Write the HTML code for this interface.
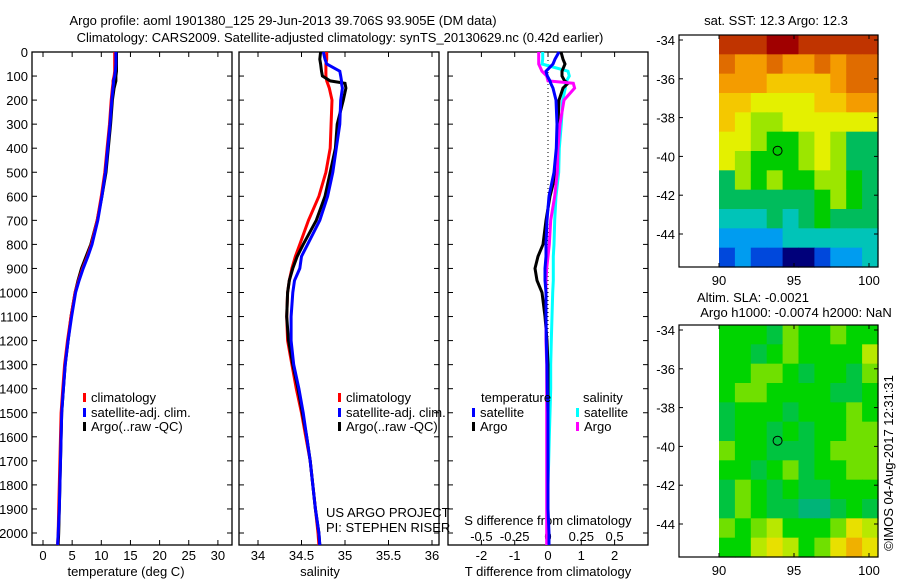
<!DOCTYPE html>
<html><head><meta charset="utf-8"><style>
html,body{margin:0;padding:0;background:#fff;}
svg{display:block;font-family:"Liberation Sans",sans-serif;}
text{fill:#000;font-size:13px;}
</style></head><body>
<svg id="fig" width="900" height="580" viewBox="0 0 900 580">
<text x="283" y="25" text-anchor="middle">Argo profile: aoml 1901380_125 29-Jun-2013 39.706S 93.905E (DM data)</text>
<text x="340" y="42" text-anchor="middle">Climatology: CARS2009. Satellite-adjusted climatology: synTS_20130629.nc (0.42d earlier)</text>
<g id="g"></g>
</svg>
<script>
// ---------- data ----------
const depths = [0,30,50,80,100,120,130,150,200,300,400,500,600,700,800,850,900,950,1000,1100,1200,1300,1400,1500,1600,1700,1800,1900,2000,2050];
const tempClim = [12.3,12.3,12.3,12.3,12.2,12.0,12.0,11.9,11.7,11.4,11.0,10.6,10.0,9.3,8.3,7.6,6.8,6.1,5.5,4.8,4.2,3.7,3.4,3.1,3.0,2.9,2.8,2.7,2.6,2.5];
const tempSat  = [12.5,12.5,12.5,12.4,12.3,12.1,12.1,12.0,11.8,11.5,11.1,10.7,10.1,9.4,8.4,7.7,6.9,6.2,5.6,4.9,4.3,3.8,3.5,3.2,3.1,3.0,2.9,2.8,2.6,2.5];
const tempArgo = [12.6,12.6,12.6,12.6,12.5,12.5,12.4,12.2,11.9,11.6,11.2,10.8,10.1,9.3,8.2,7.4,6.6,6.0,5.5,4.8,4.3,3.8,3.5,3.2,3.1,3.0,2.9,2.8,2.7,2.6];
const salClim = [34.79,34.79,34.78,34.78,34.78,34.79,34.80,34.82,34.85,34.84,34.83,34.78,34.70,34.58,34.48,34.43,34.39,34.36,34.34,34.33,34.34,34.39,34.44,34.50,34.55,34.60,34.63,34.66,34.69,34.70];
const salSat  = [34.75,34.77,34.79,34.94,34.95,34.96,34.96,34.97,34.95,34.94,34.90,34.86,34.80,34.71,34.57,34.50,34.48,34.42,34.40,34.38,34.38,34.41,34.47,34.52,34.56,34.60,34.63,34.66,34.70,34.71];
const salArgo = [34.72,34.71,34.72,34.73,34.74,34.83,35.00,35.01,34.98,34.91,34.89,34.83,34.77,34.67,34.52,34.45,34.40,34.36,34.34,34.33,34.35,34.40,34.46,34.51,34.56,34.60,34.63,34.66,34.70,34.71];
const dTsat  = [0.33,0.21,0.15,-0.06,-0.02,0.06,0.08,0.15,0.24,0.27,0.25,0.18,0.03,-0.03,-0.06,-0.06,-0.09,-0.09,-0.06,-0.06,-0.05,-0.03,-0.02,0.0,0.0,0.0,0.0,0.0,0.03,0.03];
const dTargo = [0.39,0.45,0.51,0.42,0.42,0.50,0.60,0.45,0.33,0.30,0.27,0.24,0.06,-0.06,-0.15,-0.30,-0.39,-0.33,-0.18,-0.09,-0.03,0.0,0.0,0.0,0.0,0.0,0.0,0.0,0.0,0.0];
const dSsat  = [-0.04,-0.04,-0.045,0.15,0.16,0.14,0.13,0.13,0.11,0.10,0.085,0.08,0.06,0.05,0.045,0.04,0.04,0.04,0.035,0.03,0.025,0.02,0.02,0.015,0.01,0.005,0.0,0.0,0.0,0.0];
const dSargo = [-0.07,-0.07,-0.07,-0.045,-0.01,0.0,0.19,0.20,0.12,0.09,0.075,0.07,0.05,0.02,0.01,0.0,-0.01,-0.015,-0.015,-0.015,-0.015,-0.01,-0.01,-0.01,-0.01,-0.01,-0.01,-0.01,-0.01,-0.01];
const depthTicks = [0,100,200,300,400,500,600,700,800,900,1000,1100,1200,1300,1400,1500,1600,1700,1800,1900,2000];
const tempTicks = [0,5,10,15,20,25,30];
const salTicks = ["34","34.5","35","35.5","36"];
const tdTicks = ["-2","-1","0","1","2"];
const sdTicks = ["-0.5","-0.25","0","0.25","0.5"];
const latTicks = [-34,-36,-38,-40,-42,-44];
const lonTicks = [90,95,100];
const sstPalette = ["#00007a","#0048dc","#009cf0","#00c4b8","#00bc5c","#00cc00","#9ce600","#e4f000","#f4c800","#f49c00","#e06c00","#c03400","#a00000"];
const sstGrid = [
[11,11,11,12,12,11,11,11,11,11],
[10,9,9,10,9,9,10,9,10,10],
[9,9,9,8,8,8,8,9,10,10],
[8,8,7,7,7,7,8,8,9,9],
[8,7,6,6,7,7,7,7,7,7],
[7,7,6,5,5,6,7,6,4,4],
[7,6,5,5,5,6,7,6,4,4],
[4,6,5,6,5,5,6,6,5,4],
[4,4,4,4,4,4,5,6,5,4],
[3,3,3,4,3,4,5,4,4,4],
[2,2,2,2,3,3,3,3,3,3],
[1,2,1,1,0,0,1,2,2,3]];
const slaPalette = ["#00b478","#00c440","#00d400","#70e000","#b8e800","#e8e000","#f0b000"];
const slaGrid = [
[2,2,2,1,3,2,2,3,2,2],
[2,2,1,2,3,2,2,2,2,4],
[2,2,3,3,2,1,2,2,1,3],
[2,3,3,2,2,2,2,1,1,2],
[1,2,2,2,1,2,2,2,3,2],
[1,2,2,1,2,1,2,2,3,3],
[3,2,2,1,1,1,2,3,3,3],
[2,2,1,2,3,1,2,2,3,3],
[1,3,2,1,2,1,1,2,2,2],
[1,3,2,1,1,0,0,1,2,1],
[3,2,3,4,2,2,2,3,5,4],
[2,2,4,5,4,2,3,5,6,5]];
const floatLon = 93.905, floatLat = -39.706;

// ---------- helpers ----------
const NS="http://www.w3.org/2000/svg";
const G=document.getElementById('g');
function mk(tag,attrs,parent){const e=document.createElementNS(NS,tag);for(const k in attrs)e.setAttribute(k,attrs[k]);(parent||G).appendChild(e);return e;}
function txt(x,y,s,anchor,parent){const t=mk('text',{x:x,y:y,'text-anchor':anchor||'middle'},parent);t.textContent=s;return t;}
const yD = d => 52 + d*0.2405;
const xT = v => 43 + v*5.83;
const xS = v => 258 + (v-34)*87;
const xTd = v => 548 + v*33.3;
const xSd = v => 548 + v*133.2;
const TOP=52, BOT=545;

function panel(name,x0,x1){
  const g=mk('g',{});
  
  
  mk('rect',{x:x0,y:TOP,width:x1-x0,height:BOT-TOP,fill:'none',stroke:'#000','stroke-width':1.3},g);
  depthTicks.forEach(d=>{const y=yD(d);mk('line',{x1:x0,x2:x0+5,y1:y,y2:y,stroke:'#000'},g);mk('line',{x1:x1-5,x2:x1,y1:y,y2:y,stroke:'#000'},g);});
  return g;
}
function line(g,name,xs,xf,color){
  const pts=depths.map((d,i)=>xf(xs[i]).toFixed(1)+','+yD(d).toFixed(1)).join(' ');
  const p=mk('polyline',{points:pts,fill:'none',stroke:color,'stroke-width':3,'stroke-linejoin':'miter'},g);
  
  
}
function legend(g,x,y,color,label){
  const r=mk('rect',{x:x,y:y-9,width:3,height:9,fill:color},g);
  
  
  const t=txt(x+8,y,label,'start',g);
  
  
}

// ---------- panel 1: temperature ----------
const p1=panel('temperature-panel',32,232);
depthTicks.forEach(d=>{const t=txt(28,yD(d)+5,String(d),'end',p1);});
tempTicks.forEach(v=>{const x=xT(v);mk('line',{x1:x,x2:x,y1:BOT-5,y2:BOT,stroke:'#000'},p1);mk('line',{x1:x,x2:x,y1:TOP,y2:TOP+5,stroke:'#000'},p1);txt(x,560,String(v),'middle',p1);});
txt(126,576,'temperature (deg C)','middle',p1);
line(p1,'temperature-argo',tempArgo,xT,'#000');
line(p1,'temperature-climatology',tempClim,xT,'#f00');
line(p1,'temperature-satellite-adj',tempSat,xT,'#00f');
legend(p1,83,402,'#f00','climatology');
legend(p1,83,417,'#00f','satellite-adj. clim.');
legend(p1,83,431,'#000','Argo(..raw -QC)');

// ---------- panel 2: salinity ----------
const p2=panel('salinity-panel',239,439);
salTicks.forEach(v=>{const x=xS(parseFloat(v));mk('line',{x1:x,x2:x,y1:BOT-5,y2:BOT,stroke:'#000'},p2);mk('line',{x1:x,x2:x,y1:TOP,y2:TOP+5,stroke:'#000'},p2);txt(x,560,v,'middle',p2);});
txt(320,576,'salinity','middle',p2);
line(p2,'salinity-climatology',salClim,xS,'#f00');
line(p2,'salinity-argo',salArgo,xS,'#000');
line(p2,'salinity-satellite-adj',salSat,xS,'#00f');
legend(p2,338,402,'#f00','climatology');
legend(p2,338,417,'#00f','satellite-adj. clim.');
legend(p2,338,431,'#000','Argo(..raw -QC)');
txt(326,517,'US ARGO PROJECT','start',p2);
txt(326,532,'PI: STEPHEN RISER','start',p2);

// ---------- panel 3: differences ----------
const p3=panel('difference-panel',448,648);
tdTicks.forEach(v=>{const x=xTd(parseFloat(v));mk('line',{x1:x,x2:x,y1:BOT-5,y2:BOT,stroke:'#000'},p3);mk('line',{x1:x,x2:x,y1:TOP,y2:TOP+5,stroke:'#000'},p3);txt(x,560,v,'middle',p3);});
sdTicks.forEach(v=>{txt(xSd(parseFloat(v)),541,v,'middle',p3);});
mk('line',{x1:548,x2:548,y1:yD(0),y2:yD(2050),stroke:'#000','stroke-dasharray':'1,3'},p3);
txt(548,525,'S difference from climatology','middle',p3);
txt(548,576,'T difference from climatology','middle',p3);
line(p3,'salinity-diff-satellite',dSsat,xSd,'#0ff');
line(p3,'temperature-diff-argo',dTargo,xTd,'#000');
line(p3,'salinity-diff-argo',dSargo,xSd,'#f0f');
line(p3,'temperature-diff-satellite',dTsat,xTd,'#00f');
txt(481,402,'temperature','start',p3);
txt(583,402,'salinity','start',p3);
legend(p3,472,417,'#00f','satellite');
legend(p3,472,431,'#000','Argo');
legend(p3,576,417,'#0ff','satellite');
legend(p3,576,431,'#f0f','Argo');

// ---------- maps ----------
function map(name,top,grid,pal){
  const g=mk('g',{});
  
  
  const L=679,R=878,B=top+232;
  const xl=v=>719+(v-90)*15, yl=v=>top+5+(-34-v)*19.4;
  const ix0=719, cw=(R-ix0)/grid[0].length, ch=(B-top)/grid.length;
  grid.forEach((row,r)=>row.forEach((c,k)=>{
    const cell=mk('rect',{x:(ix0+k*cw).toFixed(2),y:(top+r*ch).toFixed(2),width:(cw+0.6).toFixed(2),height:(ch+0.6).toFixed(2),fill:pal[c]},g);
    
    
  }));
  mk('rect',{x:L,y:top,width:R-L,height:B-top,fill:'none',stroke:'#000','stroke-width':1.2},g);
  latTicks.forEach(v=>{const y=yl(v);mk('line',{x1:L,x2:L+4,y1:y,y2:y,stroke:'#000'},g);mk('line',{x1:R-4,x2:R,y1:y,y2:y,stroke:'#000'},g);txt(675,y+5,String(v),'end',g);});
  lonTicks.forEach(v=>{const x=xl(v);mk('line',{x1:x,x2:x,y1:B-4,y2:B,stroke:'#000'},g);mk('line',{x1:x,x2:x,y1:top,y2:top+4,stroke:'#000'},g);txt(x,B+18,String(v),'middle',g);});
  const c=mk('circle',{cx:xl(floatLon),cy:yl(floatLat),r:4.5,fill:'none',stroke:'#000','stroke-width':1},g);
  
  
}
map('sst-map',35,sstGrid,sstPalette);
map('sla-map',325,slaGrid,slaPalette);
txt(776,25,'sat. SST: 12.3 Argo: 12.3');
txt(753,302,'Altim. SLA: -0.0021');
txt(796,317,'Argo h1000: -0.0074 h2000: NaN');
const ts=txt(0,0,'©IMOS 04-Aug-2017 12:31:31');
ts.setAttribute('transform','translate(893,463) rotate(-90)');


</script>
</body></html>
